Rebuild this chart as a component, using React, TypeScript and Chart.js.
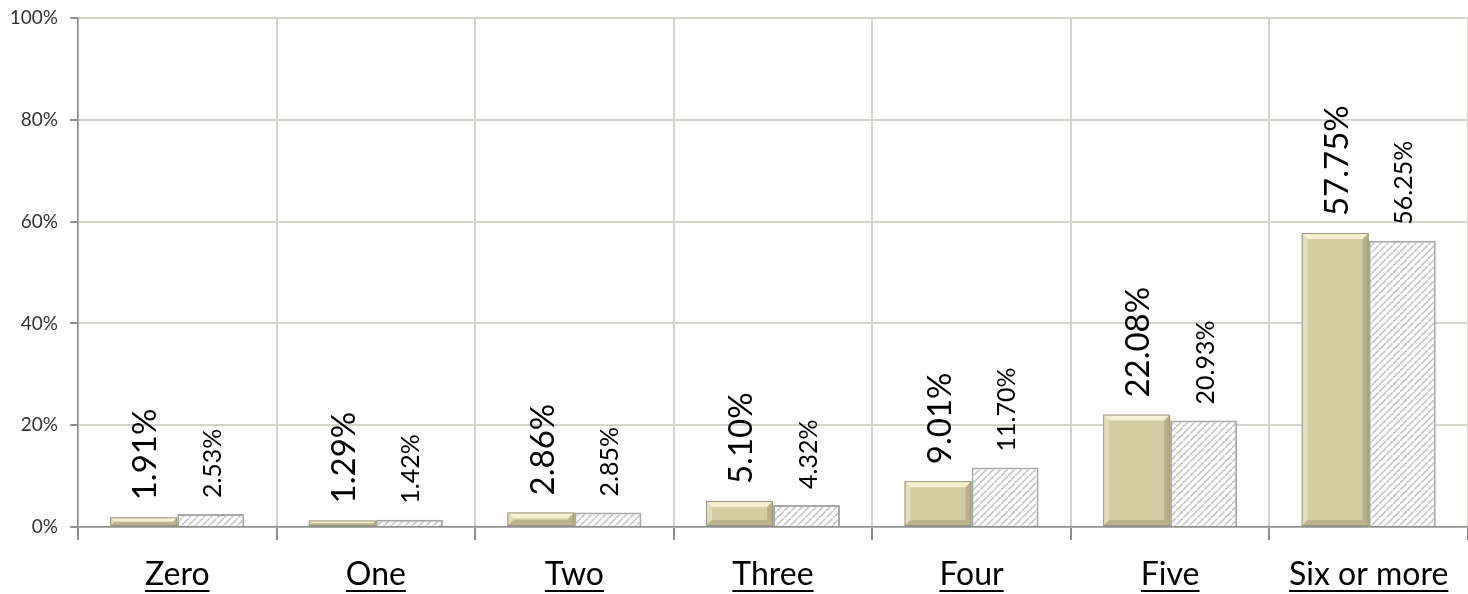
import React, { useEffect, useRef } from "react";
import { Chart, registerables } from "chart.js";

Chart.register(...registerables);

const categories = ["Zero", "One", "Two", "Three", "Four", "Five", "Six or more"];
const seriesA = [1.91, 1.29, 2.86, 5.1, 9.01, 22.08, 57.75];
const seriesB = [2.53, 1.42, 2.85, 4.32, 11.7, 20.93, 56.25];
const yMin = 0;
const yMax = 100;
const yStep = 20;

const FONT = "Lato, 'Open Sans', sans-serif";

function makeHatch(): CanvasPattern | string {
  const c = document.createElement("canvas");
  const s = 7;
  c.width = s;
  c.height = s;
  const g = c.getContext("2d");
  if (!g) return "#ffffff";
  g.fillStyle = "#ffffff";
  g.fillRect(0, 0, s, s);
  g.strokeStyle = "#c6c6c6";
  g.lineWidth = 1.6;
  g.beginPath();
  g.moveTo(-1, s + 1);
  g.lineTo(s + 1, -1);
  g.moveTo(-3, 2);
  g.lineTo(2, -3);
  g.moveTo(s - 2, s + 3);
  g.lineTo(s + 3, s - 2);
  g.stroke();
  const p = g.createPattern(c, "repeat");
  return p || "#ffffff";
}

const bevelPlugin = {
  id: "bevel",
  afterDatasetsDraw(chart: any) {
    const ctx = chart.ctx;
    const meta = chart.getDatasetMeta(0);
    meta.data.forEach((bar: any) => {
      const p = bar.getProps(["x", "y", "base", "width"], true);
      const l = p.x - p.width / 2;
      const r = p.x + p.width / 2;
      const t = p.y;
      const b = p.base;
      const bv = Math.min(6, (b - t) / 2);
      ctx.save();
      ctx.fillStyle = "rgba(250,246,215,0.85)";
      ctx.beginPath();
      ctx.moveTo(l, t);
      ctx.lineTo(r, t);
      ctx.lineTo(r - bv, t + bv);
      ctx.lineTo(l + bv, t + bv);
      ctx.closePath();
      ctx.fill();
      ctx.fillStyle = "rgba(238,233,200,0.6)";
      ctx.beginPath();
      ctx.moveTo(l, t);
      ctx.lineTo(l + bv, t + bv);
      ctx.lineTo(l + bv, b - bv);
      ctx.lineTo(l, b);
      ctx.closePath();
      ctx.fill();
      ctx.fillStyle = "rgba(150,143,105,0.45)";
      ctx.beginPath();
      ctx.moveTo(r, t);
      ctx.lineTo(r - bv, t + bv);
      ctx.lineTo(r - bv, b - bv);
      ctx.lineTo(r, b);
      ctx.closePath();
      ctx.fill();
      ctx.fillStyle = "rgba(140,133,98,0.35)";
      ctx.beginPath();
      ctx.moveTo(l, b);
      ctx.lineTo(l + bv, b - bv);
      ctx.lineTo(r - bv, b - bv);
      ctx.lineTo(r, b);
      ctx.closePath();
      ctx.fill();
      ctx.strokeStyle = "#9c987f";
      ctx.lineWidth = 1;
      ctx.strokeRect(l + 0.5, t + 0.5, p.width - 1, b - t - 1);
      ctx.restore();
    });
  },
};

const labelPlugin = {
  id: "rotLabels",
  afterDatasetsDraw(chart: any) {
    const ctx = chart.ctx;
    const cfgs = [
      { size: 33, gap: 17 },
      { size: 25, gap: 16 },
    ];
    chart.data.datasets.forEach((ds: any, i: number) => {
      const meta = chart.getDatasetMeta(i);
      meta.data.forEach((bar: any, j: number) => {
        const v = ds.data[j] as number;
        ctx.save();
        ctx.translate(bar.x, bar.y - cfgs[i].gap);
        ctx.rotate(-Math.PI / 2);
        ctx.font = `${cfgs[i].size}px ${FONT}`;
        ctx.fillStyle = "#000000";
        ctx.textAlign = "left";
        ctx.textBaseline = "middle";
        ctx.fillText(v.toFixed(2) + "%", 0, 2);
        ctx.restore();
      });
    });
  },
};

const underlinePlugin = {
  id: "underline",
  afterDraw(chart: any) {
    const ctx = chart.ctx;
    const xs = chart.scales.x;
    ctx.save();
    ctx.font = `32px ${FONT}`;
    ctx.strokeStyle = "#000000";
    ctx.lineWidth = 2;
    categories.forEach((c, i) => {
      const x = xs.getPixelForTick(i);
      const w = ctx.measureText(c).width;
      ctx.beginPath();
      ctx.moveTo(x - w / 2, 591);
      ctx.lineTo(x + w / 2, 591);
      ctx.stroke();
    });
    ctx.restore();
  },
};

export default function App() {
  const ref = useRef<HTMLCanvasElement | null>(null);
  useEffect(() => {
    if (!ref.current) return;
    const hatch = makeHatch();
    const chart = new Chart(ref.current, {
      type: "bar",
      data: {
        labels: categories,
        datasets: [
          {
            label: "A",
            data: seriesA,
            backgroundColor: "#d3cca3",
            borderColor: "#9c987f",
            borderWidth: 0,
            categoryPercentage: 0.675,
            barPercentage: 1.0,
          },
          {
            label: "B",
            data: seriesB,
            backgroundColor: hatch as any,
            borderColor: "#a8a8a8",
            borderWidth: 2,
            categoryPercentage: 0.675,
            barPercentage: 1.0,
          },
        ],
      },
      options: {
        responsive: false,
        animation: false,
        layout: { padding: { top: 18, right: 0, left: 0, bottom: 0 } },
        plugins: {
          legend: { display: false },
          tooltip: { enabled: false },
        },
        scales: {
          x: {
            afterFit: (s: any) => {
              s.height = 67;
              s.paddingLeft = 0;
              s.paddingRight = 0;
            },
            grid: {
              color: "#d4d4cc",
              lineWidth: 2,
              tickColor: "#8c8c8c",
              tickLength: 13,
              offset: true,
            },
            border: { color: "#8c8c8c", width: 1.5 },
            ticks: {
              font: { family: FONT, size: 32 },
              color: "#000000",
              padding: 15,
            },
          },
          y: {
            min: yMin,
            max: yMax,
            afterFit: (s: any) => {
              s.width = 78;
              s.paddingTop = 0;
              s.paddingBottom = 0;
            },
            grid: {
              color: "#d4d4cc",
              lineWidth: 2,
              tickColor: "#8c8c8c",
              tickLength: 8,
            },
            border: { color: "#8c8c8c", width: 1.5 },
            ticks: {
              stepSize: yStep,
              font: { family: FONT, size: 19 },
              color: "#333333",
              padding: 12,
              callback: (v: any) => v + "%",
            },
          },
        },
      },
      plugins: [bevelPlugin, labelPlugin, underlinePlugin],
    });
    return () => chart.destroy();
  }, []);
  return (
    <div style={{ position: "absolute", left: 0, top: 0, width: 1468, height: 594, background: "#ffffff" }}>
      <canvas ref={ref} width={1468} height={594} style={{ width: 1468, height: 594 }} />
    </div>
  );
}
